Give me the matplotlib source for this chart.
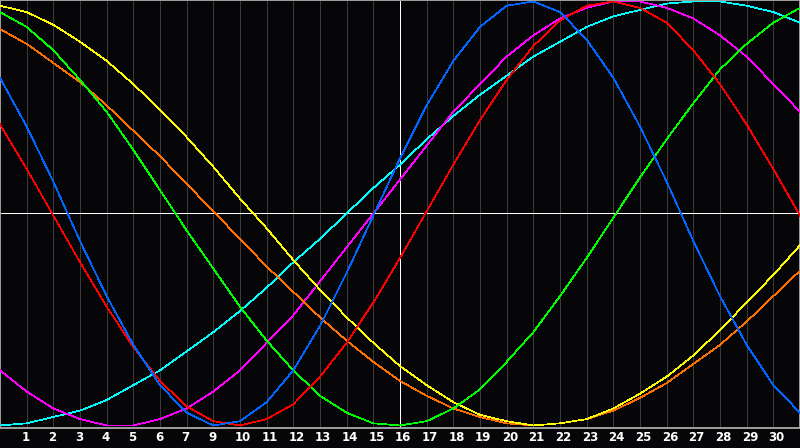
import matplotlib
matplotlib.use("Agg")
import matplotlib.pyplot as plt
import matplotlib.transforms as mtransforms

# days across the chart (0 = left edge, 30 = right edge)
days = list(range(31))
day_labels = ["1", "2", "3", "4", "5", "6", "7", "9", "10", "11", "12", "13", "14", "15",
              "16", "17", "18", "19", "20", "21", "22", "23", "24", "25", "26", "27", "28",
              "29", "30"]

# cycle values, one per day
yellow = [0.98, 0.95, 0.89, 0.81, 0.72, 0.61, 0.49, 0.36, 0.22, 0.07, -0.07, -0.22, -0.36,
          -0.49, -0.61, -0.72, -0.81, -0.89, -0.95, -0.98, -1.00, -0.99, -0.97, -0.92,
          -0.85, -0.77, -0.67, -0.55, -0.42, -0.29, -0.15]
green = [0.95, 0.88, 0.77, 0.63, 0.48, 0.30, 0.11, -0.08, -0.26, -0.44, -0.60, -0.74, -0.86,
         -0.94, -0.99, -1.00, -0.98, -0.92, -0.83, -0.70, -0.56, -0.39, -0.21, -0.02, 0.17,
         0.35, 0.52, 0.68, 0.80, 0.90, 0.97]
orange = [0.87, 0.80, 0.71, 0.62, 0.51, 0.39, 0.27, 0.14, 0.01, -0.12, -0.25, -0.37, -0.49,
          -0.60, -0.70, -0.79, -0.86, -0.92, -0.96, -0.99, -1.00, -0.99, -0.97, -0.93,
          -0.87, -0.80, -0.71, -0.62, -0.51, -0.39, -0.27]
blue = [0.64, 0.41, 0.15, -0.13, -0.39, -0.62, -0.81, -0.94, -1.00, -0.98, -0.89, -0.74,
        -0.53, -0.28, -0.01, 0.26, 0.51, 0.72, 0.88, 0.98, 1.00, 0.95, 0.82, 0.64, 0.41,
        0.15, -0.13, -0.39, -0.62, -0.81, -0.94]
red = [0.42, 0.21, -0.01, -0.23, -0.44, -0.63, -0.79, -0.91, -0.98, -1.00, -0.97, -0.90,
       -0.77, -0.61, -0.42, -0.21, 0.01, 0.23, 0.44, 0.63, 0.79, 0.91, 0.98, 1.00, 0.97,
       0.90, 0.77, 0.61, 0.42, 0.21, -0.01]
magenta = [-0.74, -0.84, -0.92, -0.97, -1.00, -1.00, -0.97, -0.92, -0.84, -0.74, -0.61,
           -0.48, -0.32, -0.16, 0.00, 0.16, 0.32, 0.48, 0.61, 0.74, 0.84, 0.92, 0.97, 1.00,
           1.00, 0.97, 0.92, 0.84, 0.74, 0.61, 0.48]
cyan = [-1.00, -0.99, -0.96, -0.93, -0.88, -0.81, -0.74, -0.65, -0.56, -0.46, -0.35, -0.23,
        -0.12, 0.00, 0.12, 0.23, 0.35, 0.46, 0.56, 0.65, 0.74, 0.81, 0.88, 0.93, 0.96, 0.99,
        1.00, 1.00, 0.98, 0.95, 0.90]

bg = "#060608"
fig = plt.figure(figsize=(8, 4.48), dpi=100)
fig.patch.set_facecolor(bg)
ax = fig.add_axes([0, 20 / 448, 1, 428 / 448])
ax.set_facecolor(bg)
ax.set_xlim(0, 30)
ax.set_ylim(-1.012, 1.007)
ax.set_xticks([])
ax.set_yticks([])
for s in ax.spines.values():
    s.set_color("#a0a0a0")
    s.set_linewidth(1.4)

# day grid, today in white
for i in range(1, 30):
    if i == 15:
        ax.axvline(i, color="white", lw=0.72, zorder=1, antialiased=False)
    else:
        ax.axvline(i, color="#3a3a3a", lw=0.72, zorder=1, antialiased=False)
ax.axhline(0, color="white", lw=0.72, zorder=1, antialiased=False)

series = [(cyan, "#00ffff"), (magenta, "#ff00ff"), (orange, "#ff7000"),
          (yellow, "#ffff00"), (green, "#00ff00"), (red, "#ff0000"), (blue, "#0066ff")]
for vals, col in series:
    ax.plot(days, vals, color=col, lw=0.5, zorder=3, antialiased=False)

trans = mtransforms.blended_transform_factory(ax.transData, fig.transFigure)
for i, lab in enumerate(day_labels, start=1):
    ax.text(i - 5 / 26.667, 11 / 448, lab, transform=trans, color="white",
            fontsize=8.5, fontweight="bold", ha="left", va="center",
            family="DejaVu Sans")

fig.savefig("out.png", dpi=100, facecolor=bg)
